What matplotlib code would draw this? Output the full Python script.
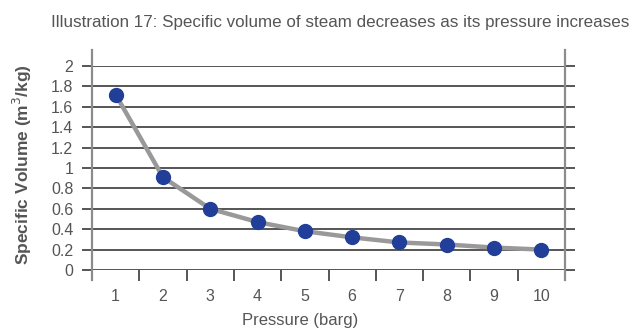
import matplotlib
matplotlib.use("Agg")
import matplotlib.pyplot as plt
from matplotlib.lines import Line2D

pressure = [1, 2, 3, 4, 5, 6, 7, 8, 9, 10]
specific_volume = [1.72, 0.91, 0.60, 0.47, 0.38, 0.32, 0.27, 0.25, 0.22, 0.20]
y_ticks = [0, 0.2, 0.4, 0.6, 0.8, 1, 1.2, 1.4, 1.6, 1.8, 2]
y_tick_labels = ["0", "0.2", "0.4", "0.6", "0.8", "1", "1.2", "1.4", "1.6", "1.8", "2"]

W, H = 643, 331
fig = plt.figure(figsize=(W / 100, H / 100), dpi=100)
plt.rcParams['font.family'] = ['Liberation Sans', 'DejaVu Sans']

x0, x1 = 92, 565
yb, yt = 270, 66
ax = fig.add_axes([x0 / W, 1 - yb / H, (x1 - x0) / W, (yb - yt) / H])

text_color = "#555555"
grid_color = "#555555"
axis_color = "#8c8c8c"

ax.set_xlim(0.5, 10.5)
ax.set_ylim(0, 2)
for s in ax.spines.values():
    s.set_visible(False)

ax.set_yticks(y_ticks)
ax.set_yticklabels(y_tick_labels)
ax.yaxis.grid(True, color=grid_color, linewidth=1.4)
ax.tick_params(axis='y', left=True, right=True, length=7.5, width=1.4, color=grid_color,
               labelsize=11.5, labelcolor=text_color, pad=6)
ax.set_axisbelow(True)

ax.set_xticks(pressure)
ax.set_xticklabels([str(p) for p in pressure])
ax.set_xticks([p + 0.5 for p in pressure[:-1]], minor=True)
ax.tick_params(axis='x', which='major', length=0, labelsize=11.5, labelcolor=text_color, pad=13.5)
ax.tick_params(axis='x', which='minor', length=8, width=1.4, color=grid_color, direction='out')

# vertical boundary lines extending above and below the plot area
for xf in (0, 1):
    ax.add_line(Line2D([xf, xf], [-(280 - 270) / 204, (270 - 50) / 204],
                       transform=ax.transAxes, color=axis_color, linewidth=1.6,
                       clip_on=False, zorder=1))

ax.plot(pressure, specific_volume, color="#999999", linewidth=3.2, zorder=3,
        solid_capstyle='round')
ax.plot(pressure, specific_volume, linestyle='none', marker='o', markersize=10,
        markerfacecolor="#213f98", markeredgecolor="#213f98", zorder=4, clip_on=False)

fig.text(340 / W, 1 - 22 / H, "Illustration 17: Specific volume of steam decreases as its pressure increases",
         ha='center', va='center', fontsize=12.25, color=text_color)
fig.text(300 / W, 1 - 320 / H, "Pressure (barg)", ha='center', va='center',
         fontsize=12, color=text_color)
fig.text(22 / W, 1 - 165 / H, "Specific Volume (m$^3$/kg)", ha='center', va='center',
         rotation=90, fontsize=12.5, fontweight='bold', color=text_color)

fig.savefig("out.png", dpi=100)
